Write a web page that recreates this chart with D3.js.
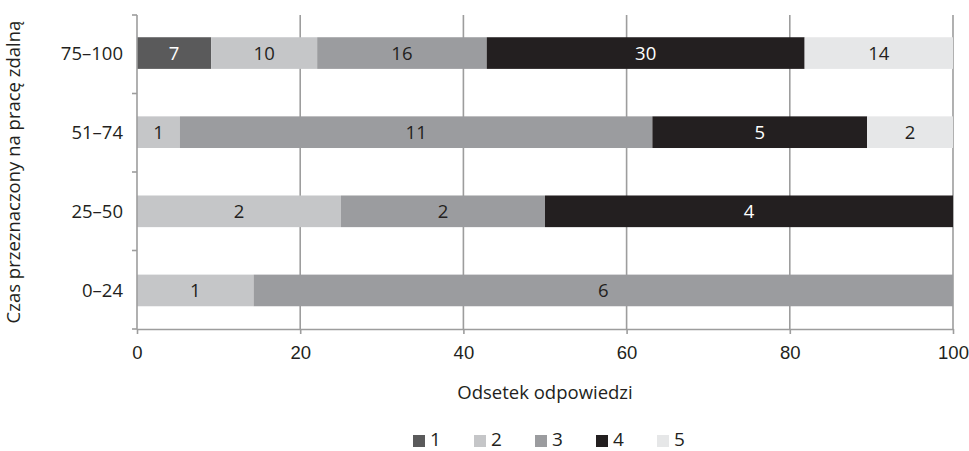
<!DOCTYPE html>
<html>
<head>
<meta charset="utf-8">
<script src="https://cdn.jsdelivr.net/npm/d3@7"></script>
<style>
  body { margin: 0; background: #fff; }
  svg { display: block; font-family: "Open Sans", "Noto Sans", sans-serif; }
</style>
</head>
<body>
<svg id="chart" width="969" height="451"></svg>
<script>
// Answer counts per remote-work bracket, stacked as shares of each row
const categories = ["75–100", "51–74", "25–50", "0–24"];
const seriesKeys = ["1", "2", "3", "4", "5"];
const s1 = [7, 0, 0, 0];
const s2 = [10, 1, 2, 1];
const s3 = [16, 11, 2, 6];
const s4 = [30, 5, 4, 0];
const s5 = [14, 2, 0, 0];
const xTicks = [0, 20, 40, 60, 80, 100];
const colors = ["#5a5a5b", "#c5c6c8", "#9b9c9f", "#231f20", "#e6e7e8"];
const labelColors = ["#ffffff", "#231f20", "#231f20", "#ffffff", "#231f20"];

const seriesVals = [s1, s2, s3, s4, s5];
const rows = categories.map((c, i) => {
  const r = { cat: c };
  const total = d3.sum(seriesVals, s => s[i]);
  seriesKeys.forEach((k, j) => { r[k] = seriesVals[j][i]; r["p" + k] = seriesVals[j][i] / total * 100; });
  return r;
});

const FS = 18.5;
const textColor = "#231f20";
const svg = d3.select("#chart");
const m = { left: 137, right: 16, top: 15, bottom: 122 };
const W = 969, H = 451;
const x = d3.scaleLinear().domain([0, 100]).range([m.left, W - m.right]);
const y = d3.scaleBand().domain(categories).range([m.top - 1.5, H - m.bottom + 1]).paddingInner(0.6).paddingOuter(0.3);
const yOuter = d3.scaleBand().domain(categories).range([m.top, H - m.bottom]);

const gridColor = "#9d9d9d";

// vertical grid lines
svg.append("g").selectAll("line").data(xTicks.slice(1)).join("line")
  .attr("x1", d => x(d)).attr("x2", d => x(d))
  .attr("y1", m.top).attr("y2", H - m.bottom)
  .attr("stroke", gridColor).attr("stroke-width", 1.6);

// stacked bars with their counts
const stack = d3.stack().keys(seriesKeys.map(k => "p" + k));
const layers = stack(rows);
const g = svg.append("g");
layers.forEach((layer, j) => {
  const segs = layer.filter(d => d[1] - d[0] > 0);
  const lg = g.append("g");
  lg.selectAll("rect").data(segs).join("rect")
    .attr("x", d => x(d[0]))
    .attr("y", d => y(d.data.cat))
    .attr("width", d => x(d[1]) - x(d[0]))
    .attr("height", y.bandwidth())
    .attr("fill", colors[j]);
  lg.selectAll("text").data(segs).join("text")
    .attr("x", d => (x(d[0]) + x(d[1])) / 2)
    .attr("y", d => y(d.data.cat) + y.bandwidth() / 2)
    .attr("dy", "0.36em")
    .attr("text-anchor", "middle")
    .attr("font-size", FS)
    .attr("fill", labelColors[j])
    .text(d => d.data[seriesKeys[j]]);
});

// x axis
const xAxis = svg.append("g").attr("transform", `translate(0,${H - m.bottom})`)
  .call(d3.axisBottom(x).tickValues(xTicks).tickSize(5).tickPadding(12).tickSizeOuter(0));
xAxis.select(".domain").attr("stroke", gridColor).attr("stroke-width", 1.6);
xAxis.selectAll(".tick line").attr("stroke", gridColor).attr("stroke-width", 1.6);
xAxis.selectAll("text").attr("font-size", FS).attr("fill", textColor).attr("font-family", "inherit");

// y axis with ticks at band boundaries
const yAxisG = svg.append("g").attr("transform", `translate(${m.left},0)`);
yAxisG.append("line").attr("x1", 0).attr("x2", 0).attr("y1", m.top).attr("y2", H - m.bottom)
  .attr("stroke", gridColor).attr("stroke-width", 1.6);
const bounds = categories.map(c => yOuter(c)).concat([H - m.bottom]);
yAxisG.selectAll("line.t").data(bounds).join("line").attr("class", "t")
  .attr("x1", -5).attr("x2", 0).attr("y1", d => d).attr("y2", d => d)
  .attr("stroke", gridColor).attr("stroke-width", 1.6);
yAxisG.selectAll("text").data(categories).join("text")
  .attr("x", -14).attr("y", d => y(d) + y.bandwidth() / 2).attr("dy", "0.36em")
  .attr("text-anchor", "end").attr("font-size", FS).attr("fill", textColor)
  .text(d => d);

// axis titles
svg.append("text").attr("x", (x(0) + x(100)) / 2).attr("y", 399)
  .attr("text-anchor", "middle").attr("font-size", FS).attr("fill", textColor)
  .text("Odsetek odpowiedzi");
svg.append("text").attr("transform", `translate(20,${(m.top + H - m.bottom) / 2}) rotate(-90)`)
  .attr("text-anchor", "middle").attr("font-size", FS).attr("fill", textColor)
  .text("Czas przeznaczony na pracę zdalną");

// legend
const legend = svg.append("g").attr("transform", "translate(413,446)");
const item = legend.selectAll("g").data(seriesKeys).join("g")
  .attr("transform", (d, i) => `translate(${i * 61},0)`);
item.append("rect").attr("x", 0).attr("y", -11).attr("width", 12).attr("height", 12)
  .attr("fill", (d, i) => colors[i]);
item.append("text").attr("x", 17).attr("y", 0)
  .attr("font-size", 19).attr("fill", textColor).text(d => d);
</script>
</body>
</html>
